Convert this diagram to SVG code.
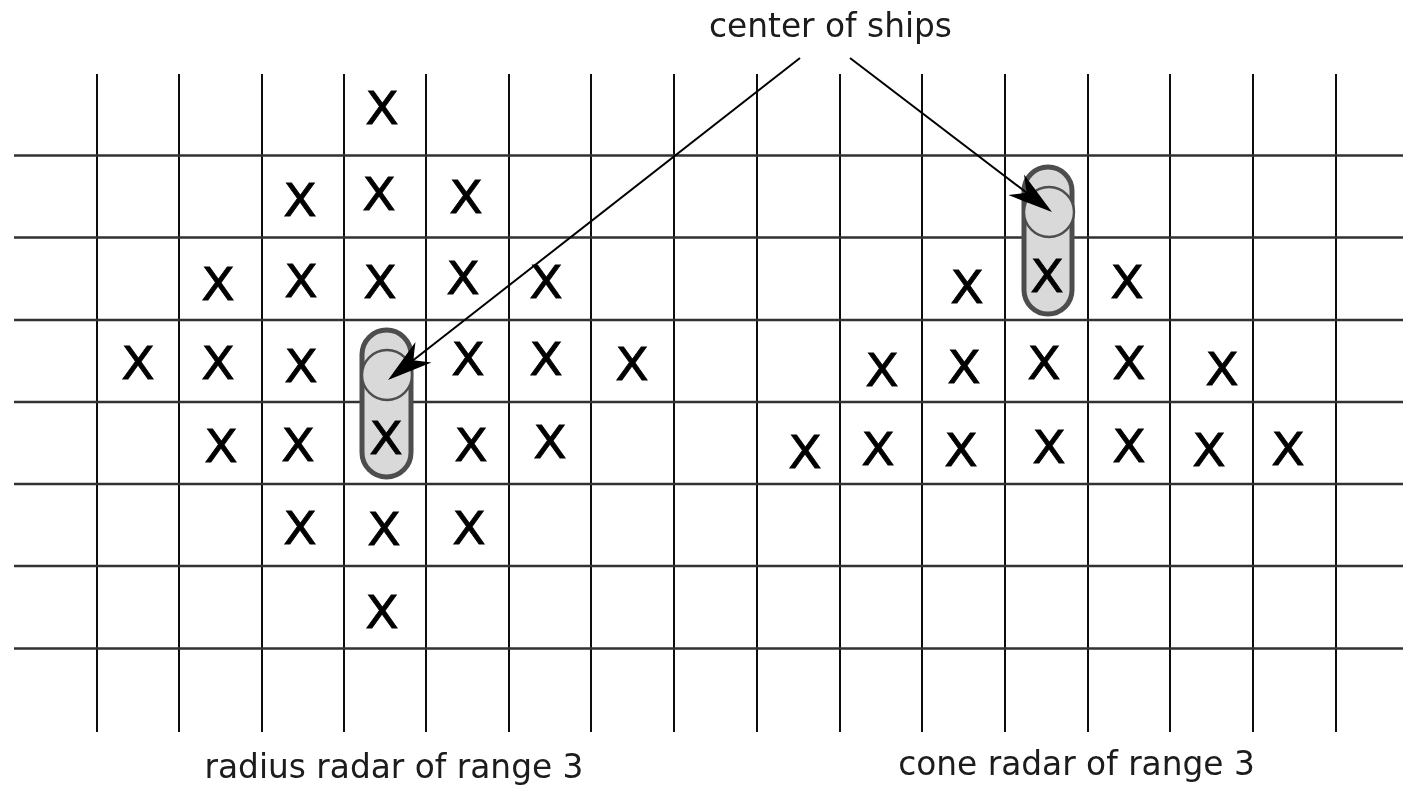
<svg xmlns="http://www.w3.org/2000/svg" width="1403" height="785" viewBox="0 0 1403 785">
<style>
.g{stroke:#111;stroke-width:2;fill:none}
.h{stroke:#333;stroke-width:2.400;fill:none}
.x{font-family:"DejaVu Sans",sans-serif;font-size:45px;fill:#000;stroke:#000;stroke-width:.8;text-anchor:middle}
.t{font-family:"DejaVu Sans",sans-serif;font-size:32.800px;fill:#1a1a1a;text-anchor:middle}
.cap{fill:#d9d9d9;stroke:#4d4d4d;stroke-width:5}
.cen{fill:#d9d9d9;stroke:#4d4d4d;stroke-width:2.400}
.a{stroke:#000;stroke-width:2;fill:none;marker-end:url(#ah)}
</style>
<defs>
<marker id="ah" markerUnits="userSpaceOnUse" viewBox="-50 -15 50 30" refX="-10" refY="0" markerWidth="50" markerHeight="30" orient="auto"><path d="M0,0L-45,-13L-32,0L-45,13Z" fill="#000"/></marker>
<filter id="soft" x="0" y="0" width="1" height="1"><feGaussianBlur stdDeviation="0.700"/></filter>
</defs>
<rect width="1403" height="785" fill="#fff"/>
<g filter="url(#soft)">
<g id="grid">
<path class="g" d="M97 74V732M179 74V732M262 74V732M344 74V732M426 74V732M509 74V732M591 74V732M674 74V732M757 74V732M840 74V732M922 74V732M1005 74V732M1088 74V732M1170 74V732M1253 74V732M1336 74V732"/>
<path class="h" d="M14 155.500H1403M14 237.500H1403M14 320H1403M14 402H1403M14 484H1403M14 566H1403M14 648.500H1403"/>
</g>
<g id="ship-left"><rect class="cap" x="362" y="330" width="49" height="147" rx="24.500"/><circle class="cen" cx="387" cy="375" r="25"/></g>
<g id="ship-right"><rect class="cap" x="1024" y="167" width="48" height="147" rx="24"/><circle class="cen" cx="1049" cy="212" r="25"/></g>
<g id="radius-marks">
<text class="x" textLength="33.500" lengthAdjust="spacingAndGlyphs" x="382" y="124">X</text><text class="x" textLength="33.500" lengthAdjust="spacingAndGlyphs" x="300" y="216">X</text><text class="x" textLength="33.500" lengthAdjust="spacingAndGlyphs" x="379" y="210">X</text><text class="x" textLength="33.500" lengthAdjust="spacingAndGlyphs" x="466" y="213">X</text>
<text class="x" textLength="33.500" lengthAdjust="spacingAndGlyphs" x="218" y="300">X</text><text class="x" textLength="33.500" lengthAdjust="spacingAndGlyphs" x="301" y="297">X</text><text class="x" textLength="33.500" lengthAdjust="spacingAndGlyphs" x="380" y="298">X</text><text class="x" textLength="33.500" lengthAdjust="spacingAndGlyphs" x="463" y="294">X</text><text class="x" textLength="33.500" lengthAdjust="spacingAndGlyphs" x="546" y="298">X</text>
<text class="x" textLength="33.500" lengthAdjust="spacingAndGlyphs" x="138" y="379">X</text><text class="x" textLength="33.500" lengthAdjust="spacingAndGlyphs" x="218" y="379">X</text><text class="x" textLength="33.500" lengthAdjust="spacingAndGlyphs" x="301" y="382">X</text><text class="x" textLength="33.500" lengthAdjust="spacingAndGlyphs" x="468" y="375">X</text><text class="x" textLength="33.500" lengthAdjust="spacingAndGlyphs" x="546" y="375">X</text><text class="x" textLength="33.500" lengthAdjust="spacingAndGlyphs" x="632" y="380">X</text>
<text class="x" textLength="33.500" lengthAdjust="spacingAndGlyphs" x="221" y="462">X</text><text class="x" textLength="33.500" lengthAdjust="spacingAndGlyphs" x="298" y="461">X</text><text class="x" textLength="33.500" lengthAdjust="spacingAndGlyphs" x="386" y="454">X</text><text class="x" textLength="33.500" lengthAdjust="spacingAndGlyphs" x="471" y="461">X</text><text class="x" textLength="33.500" lengthAdjust="spacingAndGlyphs" x="550" y="458">X</text>
<text class="x" textLength="33.500" lengthAdjust="spacingAndGlyphs" x="300" y="544">X</text><text class="x" textLength="33.500" lengthAdjust="spacingAndGlyphs" x="384" y="545">X</text><text class="x" textLength="33.500" lengthAdjust="spacingAndGlyphs" x="469" y="544">X</text><text class="x" textLength="33.500" lengthAdjust="spacingAndGlyphs" x="382" y="628">X</text>
</g>
<g id="cone-marks">
<text class="x" textLength="33.500" lengthAdjust="spacingAndGlyphs" x="967" y="303">X</text><text class="x" textLength="33.500" lengthAdjust="spacingAndGlyphs" x="1047" y="292">X</text><text class="x" textLength="33.500" lengthAdjust="spacingAndGlyphs" x="1127" y="298">X</text>
<text class="x" textLength="33.500" lengthAdjust="spacingAndGlyphs" x="882" y="386">X</text><text class="x" textLength="33.500" lengthAdjust="spacingAndGlyphs" x="964" y="383">X</text><text class="x" textLength="33.500" lengthAdjust="spacingAndGlyphs" x="1044" y="379">X</text><text class="x" textLength="33.500" lengthAdjust="spacingAndGlyphs" x="1129" y="379">X</text><text class="x" textLength="33.500" lengthAdjust="spacingAndGlyphs" x="1222" y="385">X</text>
<text class="x" textLength="33.500" lengthAdjust="spacingAndGlyphs" x="805" y="468">X</text><text class="x" textLength="33.500" lengthAdjust="spacingAndGlyphs" x="878" y="465">X</text><text class="x" textLength="33.500" lengthAdjust="spacingAndGlyphs" x="961" y="466">X</text><text class="x" textLength="33.500" lengthAdjust="spacingAndGlyphs" x="1049" y="463">X</text><text class="x" textLength="33.500" lengthAdjust="spacingAndGlyphs" x="1129" y="462">X</text><text class="x" textLength="33.500" lengthAdjust="spacingAndGlyphs" x="1209" y="466">X</text><text class="x" textLength="33.500" lengthAdjust="spacingAndGlyphs" x="1288" y="465">X</text>
</g>
<g id="connectors">
<line class="a" x1="800" y1="58" x2="395.900" y2="373.800"/>
<line class="a" x1="850" y1="58" x2="1044" y2="206"/>
</g>
<g id="labels">
<text class="t" x="830.500" y="37">center of ships</text>
<text class="t" x="394" y="777.500">radius radar of range 3</text>
<text class="t" x="1076.500" y="775">cone radar of range 3</text>
</g>
</g>
</svg>
